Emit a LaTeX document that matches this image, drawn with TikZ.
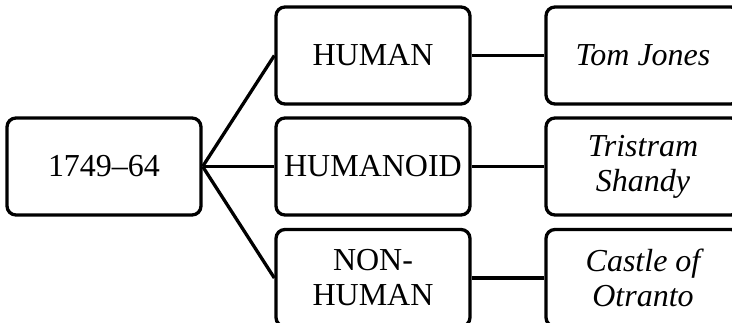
\documentclass[tikz,border=0pt]{standalone}
\usepackage{fontspec}
\setmainfont{Liberation Serif}
\begin{document}
\begin{tikzpicture}[x=1pt,y=-1pt,
  box/.style={draw,line width=3.3pt,rounded corners=9pt,minimum width=194pt,minimum height=97pt,inner sep=0pt,align=center,font=\fontsize{32}{35}\selectfont},
  link/.style={line width=3.3pt}]
\useasboundingbox (0,0) rectangle (732,323);
\clip (0,0) rectangle (732,323);
\node[box] (L) at (104,166.5) {1749–64};
\node[box] (A) at (373,55.5) {HUMAN};
\node[box] (B) at (373,166.5) {HUMANOID};
\node[box] (C) at (373,278) {NON-\\HUMAN};
\node[box] (TJ) at (643,55.5) {\itshape Tom Jones};
\node[box] (TS) at (643,166.5) {\itshape Tristram\\\itshape Shandy};
\node[box] (CO) at (643,278) {\itshape Castle of\\\itshape Otranto};
\draw[link] (L.east) -- (A.west);
\draw[link] (L.east) -- (B.west);
\draw[link] (L.east) -- (C.west);
\draw[link] (A.east) -- (TJ.west);
\draw[link] (B.east) -- (TS.west);
\draw[link] (C.east) -- (CO.west);
\end{tikzpicture}
\end{document}
